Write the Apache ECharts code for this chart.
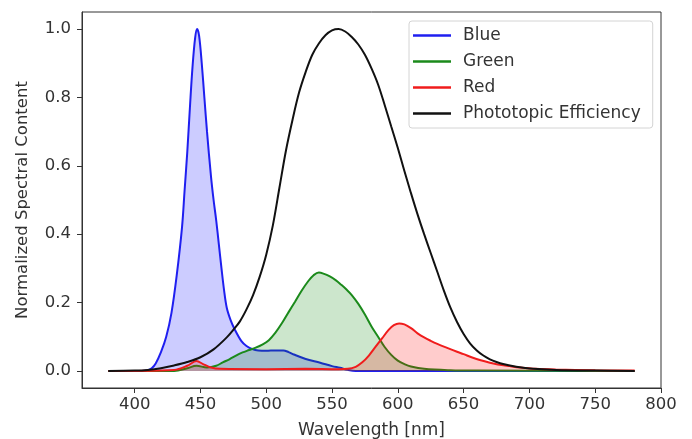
<!DOCTYPE html>
<html>
<head>
<meta charset="utf-8">
<script src="https://cdn.jsdelivr.net/npm/echarts@6/dist/echarts.min.js"></script>
<style>
html,body{margin:0;padding:0;background:#fff;}
#chart{width:692px;height:439px;}
</style>
</head>
<body>
<div id="chart"></div>
<script>
// Data: [wavelength nm, normalized value]
const seriesNames = ['Blue', 'Green', 'Red', 'Phototopic Efficiency'];
const xTicks = [400, 450, 500, 550, 600, 650, 700, 750, 800];
const yTicks = [0, 0.2, 0.4, 0.6, 0.8, 1.0];

const blueX = [380,405,410,413,416,420,424,428,432,436,438,440,442,444,446,447.5,449,451,453,455,458,460,462,464,466,468,470,473,476,481,485,490,494,500,507,513,517,521,530,541,550,556,562,568,780];
const blueY = [0,0,0.002,0.008,0.022,0.055,0.1,0.17,0.28,0.42,0.53,0.64,0.77,0.89,0.975,1.0,0.98,0.9,0.8,0.7,0.57,0.5,0.44,0.37,0.3,0.235,0.185,0.148,0.122,0.088,0.073,0.063,0.06,0.059,0.06,0.06,0.055,0.048,0.035,0.024,0.014,0.009,0.003,0,0];

const greenX = [380,430,440,447,455,462,467,472,477,482,487,492,497,502,507,512,517,522,527,532,536,540,544,548,553,557,561,565,570,575,580,585,590,595,600,605,610,620,640,660,780];
const greenY = [0,0,0.008,0.015,0.01,0.015,0.025,0.034,0.045,0.054,0.061,0.068,0.077,0.09,0.112,0.14,0.172,0.203,0.235,0.263,0.28,0.288,0.284,0.277,0.265,0.252,0.238,0.222,0.196,0.165,0.13,0.1,0.07,0.047,0.03,0.02,0.013,0.006,0.002,0.001,0];

const redX = [380,430,440,447,452,458,465,500,530,555,562,568,573,578,583,588,593,597,601,605,610,615,620,625,630,637,645,650,656,663,670,676,685,693,705,720,750,780];
const redY = [0,0.003,0.015,0.029,0.02,0.01,0.006,0.005,0.006,0.005,0.006,0.012,0.025,0.045,0.07,0.095,0.12,0.134,0.139,0.136,0.125,0.11,0.098,0.088,0.079,0.068,0.056,0.049,0.04,0.031,0.024,0.019,0.014,0.01,0.006,0.004,0.002,0.001];

const photoX = [380,400,410,420,430,440,450,460,470,475,480,485,490,495,500,505,510,515,520,525,530,535,540,545,550,555,560,565,570,575,580,585,590,595,600,605,610,615,620,625,630,635,640,645,650,655,660,665,670,675,680,690,700,720,750,780];
const photoY = [0,0.001,0.003,0.008,0.016,0.026,0.04,0.063,0.098,0.12,0.145,0.18,0.222,0.275,0.34,0.425,0.535,0.645,0.735,0.815,0.875,0.925,0.958,0.982,0.996,1.0,0.993,0.977,0.955,0.925,0.885,0.838,0.778,0.715,0.652,0.585,0.52,0.458,0.4,0.345,0.29,0.235,0.185,0.143,0.108,0.08,0.06,0.045,0.034,0.026,0.02,0.012,0.007,0.003,0.001,0];

function pairs(xs, ys) { return xs.map((x, i) => [x, ys[i]]); }

const FONT = 'DejaVu Sans';
const TXT = '#333';

const chart = echarts.init(document.getElementById('chart'), null, {renderer: 'canvas'});

function lineSeries(name, xs, ys, color, fill, z) {
  const s = {
    name: name,
    type: 'line',
    data: pairs(xs, ys),
    color: color,
    showSymbol: false,
    symbol: 'none',
    smooth: 0.35,
    lineStyle: {color: color, width: 2},
    emphasis: {disabled: true},
    z: z,
    animation: false
  };
  if (fill) s.areaStyle = {color: fill, origin: 'auto', opacity: 1};
  return s;
}

chart.setOption({
  backgroundColor: '#fff',
  animation: false,
  textStyle: {fontFamily: FONT},
  grid: {left: 82, right: 31, top: 12, bottom: 51, containLabel: false, outerBoundsMode: 'none',
    show: true, borderColor: '#333', borderWidth: 1, backgroundColor: 'transparent'},
  legend: {
    orient: 'vertical',
    left: 409, top: 21,
    itemWidth: 38, itemHeight: 2.5,
    itemGap: 9,
    icon: 'rect',
    padding: [6, 12, 6, 4],
    backgroundColor: '#fff',
    borderColor: '#d4d4d4', borderWidth: 1, borderRadius: 3,
    textStyle: {fontFamily: FONT, fontSize: 17, color: TXT, lineHeight: 17, padding: [0, 0, 0, 7]},
    data: seriesNames,
    selectedMode: false
  },
  xAxis: {
    type: 'value', min: 360, max: 800,
    name: 'Wavelength [nm]', nameLocation: 'middle', nameGap: 34,
    nameTextStyle: {fontFamily: FONT, fontSize: 17, color: TXT},
    axisLine: {show: true, onZero: false, lineStyle: {color: '#333', width: 1}},
    axisTick: {show: true, inside: false, length: 5, customValues: xTicks, lineStyle: {color: '#333'}},
    axisLabel: {customValues: xTicks, fontFamily: FONT, fontSize: 16.5, color: TXT, margin: 8},
    splitLine: {show: false}
  },
  yAxis: {
    type: 'value', min: -0.05, max: 1.05,
    name: 'Normalized Spectral Content', nameLocation: 'middle', nameGap: 51,
    nameTextStyle: {fontFamily: FONT, fontSize: 16.5, color: TXT},
    axisLine: {show: true, onZero: false, lineStyle: {color: '#333', width: 1}},
    axisTick: {show: true, inside: false, length: 5, customValues: yTicks, lineStyle: {color: '#333'}},
    axisLabel: {customValues: yTicks, fontFamily: FONT, fontSize: 16.5, color: TXT, margin: 11,
      formatter: v => Number(v).toFixed(1)},
    splitLine: {show: false}
  },
  series: [
    lineSeries('Blue', blueX, blueY, '#1f1ff0', 'rgba(0,0,255,0.2)', 2),
    lineSeries('Green', greenX, greenY, '#1b8a1b', 'rgba(0,128,0,0.2)', 3),
    lineSeries('Red', redX, redY, '#f01c1c', 'rgba(255,0,0,0.2)', 4),
    lineSeries('Phototopic Efficiency', photoX, photoY, '#111111', null, 5)
  ]
});
</script>
</body>
</html>
